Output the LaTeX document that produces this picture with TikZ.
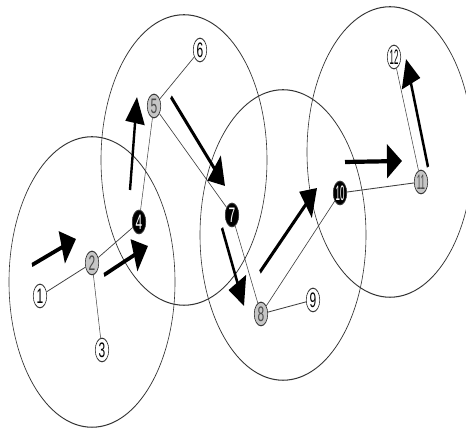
\documentclass[tikz,border=0pt]{standalone}
\usepackage{fontspec}
\setsansfont{Liberation Sans}
\usetikzlibrary{arrows.meta}

\newcommand{\narrow}[1]{\scalebox{0.66}[1]{#1}}

\begin{document}
\begin{tikzpicture}[
    x=1pt, y=-1pt,
    every node/.style={font=\sffamily\fontsize{12}{12}\selectfont},
    zone/.style={draw, black!80, line width=0.6pt},
    station/.style={circle, draw, black!80, line width=0.6pt, minimum size=13.5pt, inner sep=0pt},
    headnode/.style={station, fill=black, text=white},
    gatenode/.style={station, fill=gray!45, text=black!70},
    membernode/.style={station, fill=white, text=black},
    link/.style={black!75, line width=0.5pt},
    move/.style={-{Triangle[length=15pt, width=19pt]}, line width=2.4pt}
]

\useasboundingbox (0,0) rectangle (466,430);

\begin{scope}[transform canvas={yscale=1.75}, y=-0.5714pt]

% ============ RADIO RANGES ============
\draw[zone] (92,282) circle [radius=83pt];
\draw[zone] (184,160) circle [radius=83pt];
\draw[zone] (283,235) circle [radius=83pt];
\draw[zone] (390,152) circle [radius=83pt];

% ============ STATIONS ============
\node[membernode] (n1) at (40,296) {1};
\node[gatenode] (n2) at (92,263) {2};
\node[membernode] (n3) at (102,350) {3};
\node[headnode] (n4) at (139,222) {4};
\node[gatenode] (n5) at (154,106) {5};
\node[membernode] (n6) at (200,50) {6};
\node[headnode] (n7) at (232,215) {7};
\node[gatenode] (n8) at (261,314) {8};
\node[membernode] (n9) at (313,300) {9};
\node[headnode] (n10) at (340,193) {\narrow{10}};
\node[gatenode] (n11) at (421,182) {\narrow{11}};
\node[membernode] (n12) at (394,57) {\narrow{12}};

% Links
\draw[link] (n1) -- (n2);
\draw[link] (n2) -- (n3);
\draw[link] (n2) -- (n4);
\draw[link] (n4) -- (n5);
\draw[link] (n5) -- (n6);
\draw[link] (n5) -- (n7);
\draw[link] (n7) -- (n8);
\draw[link] (n8) -- (n9);
\draw[link] (n8) -- (n10);
\draw[link] (n10) -- (n11);
\draw[link] (n11) -- (n12);

% ============ MOVEMENT ARROWS ============
\coordinate (m1s) at (32,265);  \coordinate (m1e) at (76,239);
\coordinate (m2s) at (104,275); \coordinate (m2e) at (148,246);
\coordinate (m3s) at (130,190); \coordinate (m3e) at (137,97);
\coordinate (m4s) at (171,97);  \coordinate (m4e) at (225,186);
\coordinate (m5s) at (222,228); \coordinate (m5e) at (244,306);
\coordinate (m6s) at (260,272); \coordinate (m6e) at (317,188);
\coordinate (m7s) at (345,162); \coordinate (m7e) at (402,161);
\coordinate (m8s) at (428,167); \coordinate (m8e) at (406,59);

\draw[move] (m1s) -- (m1e);
\draw[move] (m2s) -- (m2e);
\draw[move] (m3s) -- (m3e);
\draw[move] (m4s) -- (m4e);
\draw[move] (m5s) -- (m5e);
\draw[move] (m6s) -- (m6e);
\draw[move] (m7s) -- (m7e);
\draw[move] (m8s) -- (m8e);

\end{scope}
\end{tikzpicture}
\end{document}
